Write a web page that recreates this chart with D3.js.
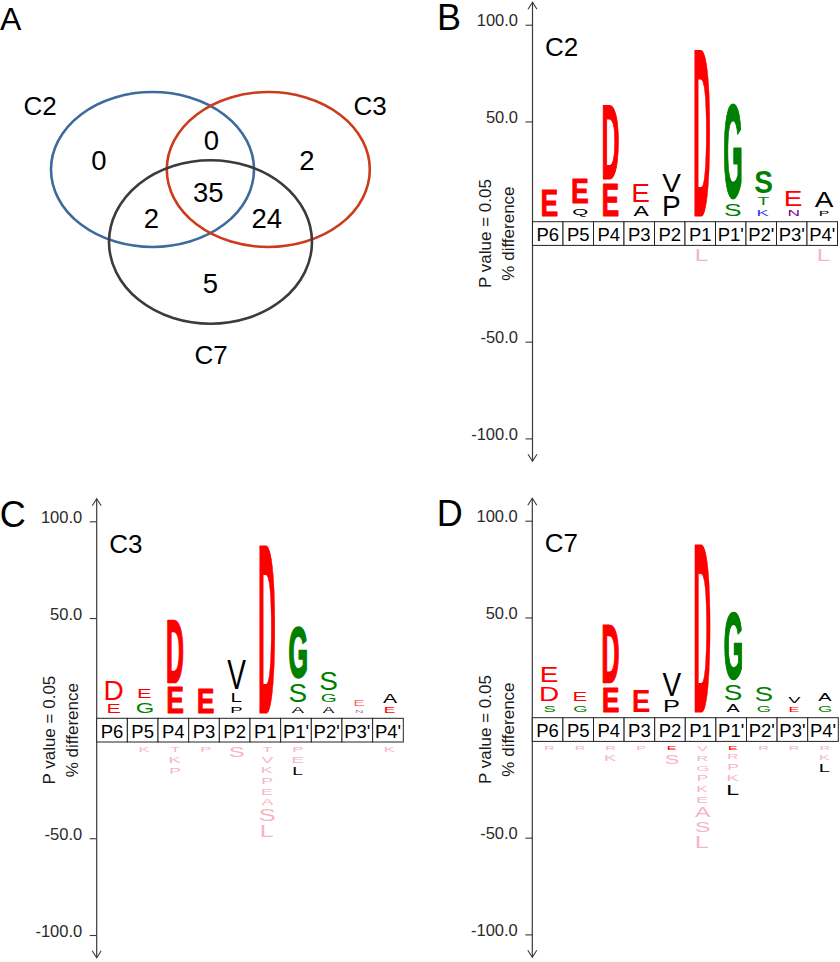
<!DOCTYPE html>
<html><head><meta charset="utf-8">
<script src="https://cdn.jsdelivr.net/npm/d3@7"></script>
<style>body{margin:0;background:#fff;} svg{display:block;}</style>
</head><body>
<svg id="fig" width="840" height="962"></svg>
<script>
// ================= DATA =================
const positions = ["P6","P5","P4","P3","P2","P1","P1'","P2'","P3'","P4'"];
const yTicks = [100, 50, -50, -100];
const yTitle = ["P value = 0.05", "% difference"];

// Venn (panel A)
const vennSets = ["C2", "C3", "C7"];
const vennRegions = ["C2", "C3", "C7", "C2&C3", "C2&C7", "C3&C7", "C2&C3&C7"];
const vennCounts = [0, 2, 5, 0, 2, 24, 35];

// Sequence logos: [residue, % difference, flag]; positive stacks listed bottom->top,
// negative stacks listed top->bottom. flag "f" = under-represented (pink), "h" = faint
const c2Up = [
  [["E",16.1]],
  [["Q",6.6],["E",15.2]],
  [["E",19.2],["D",40.1]],
  [["A",7.5],["E",11.8]],
  [["P",12.6],["V",11.6]],
  [["D",88.2]],
  [["S",8.7],["G",51.6]],
  [["K",5.8],["T",6.1],["S",14.0]],
  [["N",5.4],["E",10.1]],
  [["P",4.9],["A",10.4]]
];
const c2Down = [[],[],[],[],[],[["L",-8.0,"f"]],[],[],[],[["L",-8.0,"f"]]];

const c3Up = [
  [["E",6.9],["D",12.3]],
  [["G",7.8],["E",7.1]],
  [["E",15.7],["D",34.9]],
  [["E",15.4]],
  [["P",5.8],["L",6.6],["V",17.3]],
  [["D",88.8]],
  [["A",5.8],["S",11.8],["G",29.0]],
  [["A",5.4],["G",6.6],["S",11.6]],
  [["N",3.4,"h"],["E",5.4,"h"]],
  [["E",5.4],["A",6.8]]
];
const c3Down = [
  [],
  [["K",-5.1,"f"]],
  [["T",-5.1,"f"],["K",-5.8,"f"],["P",-5.4,"f"]],
  [["P",-5.1,"f"]],
  [["S",-7.8,"f"]],
  [["T",-5.1,"f"],["V",-5.5,"f"],["K",-5.5,"f"],["P",-5.5,"f"],["E",-5.5,"f"],["A",-5.5,"f"],["S",-8.4,"f"],["L",-8.2,"f"]],
  [["P",-5.1,"f"],["E",-5.8,"f"],["L",-6.1]],
  [],
  [],
  [["K",-5.1,"f"]]
];

const c7Up = [
  [["S",5.8],["D",9.7],["E",10.1]],
  [["G",5.8],["E",7.1]],
  [["E",15.4],["D",32.7]],
  [["E",13.7]],
  [["P",8.4],["V",14.3]],
  [["D",88.8]],
  [["A",6.3],["S",10.4],["G",37.5]],
  [["G",5.8],["S",9.9]],
  [["E",5.1],["V",5.8]],
  [["G",5.8],["A",6.4]]
];
const c7Down = [
  [["R",-4.4,"f"]],
  [["R",-4.4,"f"]],
  [["R",-4.4,"f"],["K",-5.8,"f"]],
  [["P",-4.4,"f"]],
  [["E",-4.4],["S",-7.0,"f"]],
  [["V",-4.9,"f"],["R",-4.9,"f"],["G",-5.3,"f"],["P",-5.3,"f"],["K",-5.4,"f"],["E",-5.8,"f"],["A",-7.5,"f"],["S",-7.5,"f"],["L",-8.4,"f"]],
  [["E",-4.4],["R",-4.7,"f"],["P",-5.4,"f"],["K",-5.8,"f"],["L",-7.5]],
  [["R",-4.4,"f"]],
  [["R",-4.4,"f"]],
  [["R",-4.4,"f"],["K",-5.0,"f"],["L",-6.5]]
];

// ================= STYLE / LAYOUT =================
const FONT = '"Liberation Sans", Arial, Helvetica, sans-serif';
const residueColor = {E:"#ff0000", D:"#ff0000", G:"#008000", S:"#008000", T:"#008000",
                      K:"#3535ff", R:"#3535ff", N:"#800080"};
const fadedColor = "#f5b5c5";
const svg = d3.select("#fig");
const fmtTick = v => d3.format(".1f")(v).replace("\u2212", "-");

const canvas = document.createElement("canvas");
const ctx = canvas.getContext("2d");
const metricCache = {};
function glyphMetrics(ch, bold) {
  const key = ch + (bold ? "b" : "r");
  if (!metricCache[key]) {
    ctx.font = (bold ? "bold " : "") + '100px "Liberation Sans"';
    const m = ctx.measureText(ch);
    metricCache[key] = {
      left: m.actualBoundingBoxLeft, right: m.actualBoundingBoxRight,
      asc: m.actualBoundingBoxAscent, desc: m.actualBoundingBoxDescent
    };
  }
  return metricCache[key];
}

// draw a glyph stretched so that its ink fills height h, centered at cx, top at y
function drawGlyph(g, ch, cx, yTop, h, color, opacity) {
  if (h < 1.5) h = 1.5;
  const isBlack = color === "#000000";
  const bold = h >= 22 && !isBlack;
  const sw = isBlack ? 0 : (h >= 45 ? 2 : (h >= 24 ? 0.8 : 0));
  const m = glyphMetrics(ch, bold);
  const inkW = m.left + m.right, inkH = m.asc + m.desc;
  const F = Math.min(28, 9 + 1.4 * h);
  const w = inkW / 100 * F - sw;
  const hh = h - sw;
  const sx = w / inkW, sy = hh / inkH;
  g.append("text")
    .attr("transform", `translate(${cx - w / 2},${yTop + sw / 2}) scale(${sx},${sy})`)
    .attr("x", m.left).attr("y", m.asc)
    .attr("font-family", '"Liberation Sans"')
    .attr("font-weight", bold ? "bold" : "normal")
    .attr("font-size", 100)
    .attr("fill", color)
    .attr("fill-opacity", opacity)
    .attr("stroke", sw ? color : "none")
    .attr("stroke-width", sw)
    .attr("vector-effect", "non-scaling-stroke")
    .attr("stroke-linejoin", "round")
    .text(ch);
}

function letterColor(res, flag) {
  if (flag === "f") return fadedColor;
  return residueColor[res] || "#000000";
}

// ================= PANEL A: VENN =================
(function () {
  const g = svg.append("g");
  const ellipses = [
    {cx: 152.5, cy: 169.5, rx: 101.5, ry: 77.5, color: "#3f6a9c"},
    {cx: 268.3, cy: 169.5, rx: 101.5, ry: 77.5, color: "#cc3b1b"},
    {cx: 210.5, cy: 242.0, rx: 101.5, ry: 81.8, color: "#3b3b3b"}
  ];
  const setLabelPos = [[40, 115], [370, 115], [211, 364]];
  const regionPos = [[99, 170], [307, 169.5], [210.5, 293], [211.3, 150], [151.3, 228], [266.7, 228.3], [208.3, 201.7]];

  g.selectAll("ellipse").data(ellipses).join("ellipse")
    .attr("cx", d => d.cx).attr("cy", d => d.cy)
    .attr("rx", d => d.rx).attr("ry", d => d.ry)
    .attr("fill", "none").attr("stroke", d => d.color).attr("stroke-width", 2.6);

  g.selectAll("text.set").data(vennSets).join("text").attr("class", "set")
    .attr("x", (d, i) => setLabelPos[i][0]).attr("y", (d, i) => setLabelPos[i][1])
    .attr("text-anchor", "middle").attr("font-family", FONT).attr("font-size", 26)
    .attr("fill", "#000").text(d => d);

  g.selectAll("text.cnt").data(vennCounts).join("text").attr("class", "cnt")
    .attr("x", (d, i) => regionPos[i][0]).attr("y", (d, i) => regionPos[i][1])
    .attr("text-anchor", "middle").attr("font-family", FONT).attr("font-size", 27.5)
    .attr("fill", "#000").text(d => d);

  g.append("text").attr("x", 0).attr("y", 30).attr("font-family", FONT)
    .attr("font-size", 32).attr("fill", "#000").text("A");
})();

// ================= LOGO PANELS =================
function drawLogo(cfg, up, down) {
  const g = svg.append("g");
  const k = 1.935, boxH = 23.7, pad = 4.5;
  const boxTop = cfg.boxTop, boxBot = boxTop + boxH;
  const ax = cfg.axisX;

  const yPos = d3.scaleLinear().domain([0, 100]).range([boxTop - 3, boxTop - 3 - 100 * k]);
  const yNeg = d3.scaleLinear().domain([0, -100]).range([boxBot, boxBot + 100 * k]);
  const yNegL = d3.scaleLinear().domain([0, -100]).range([boxBot + 2.5, boxBot + 2.5 + 100 * k]);
  const x = d3.scaleBand().domain(positions).range([ax, ax + 10 * cfg.colW]).paddingInner(0).paddingOuter(0);
  const tickY = v => v >= 0 ? yPos(v) : yNeg(v);

  // axis line + arrows
  const yTopA = boxTop - 219.5, yBotA = boxTop + 239.5;
  g.append("line").attr("x1", ax).attr("x2", ax).attr("y1", yTopA).attr("y2", yBotA)
    .attr("stroke", "#3a3a3a").attr("stroke-width", 1.2);
  g.append("path").attr("d", `M${ax - 4.5},${yTopA + 7}L${ax},${yTopA}L${ax + 4.5},${yTopA + 7}`)
    .attr("fill", "none").attr("stroke", "#3a3a3a").attr("stroke-width", 1.1);
  g.append("path").attr("d", `M${ax - 4.5},${yBotA - 7}L${ax},${yBotA}L${ax + 4.5},${yBotA - 7}`)
    .attr("fill", "none").attr("stroke", "#3a3a3a").attr("stroke-width", 1.1);

  // ticks
  g.selectAll("line.tick").data(yTicks).join("line").attr("class", "tick")
    .attr("x1", ax - 7).attr("x2", ax).attr("y1", tickY).attr("y2", tickY)
    .attr("stroke", "#3a3a3a").attr("stroke-width", 1.1);
  g.selectAll("text.tick").data(yTicks).join("text").attr("class", "tick")
    .attr("x", ax - 14.5).attr("y", d => tickY(d) + 1)
    .attr("text-anchor", "end").attr("font-family", FONT).attr("font-size", 16.5)
    .attr("fill", "#2a2a2a").text(fmtTick);

  // axis title
  const midY = boxTop + boxH / 2;
  yTitle.forEach((t, i) => {
    const tx = ax - (i === 0 ? 47 : 24);
    g.append("text").attr("transform", `translate(${tx},${midY}) rotate(-90)`)
      .attr("text-anchor", "middle").attr("dominant-baseline", "central")
      .attr("font-family", FONT).attr("font-size", 17).attr("fill", "#1a1a1a").text(t);
  });

  // position boxes
  g.selectAll("rect.pos").data(positions).join("rect").attr("class", "pos")
    .attr("x", d => x(d)).attr("y", boxTop).attr("width", x.bandwidth()).attr("height", boxH)
    .attr("fill", "#fff").attr("stroke", "#222").attr("stroke-width", 1);
  g.selectAll("text.pos").data(positions).join("text").attr("class", "pos")
    .attr("x", d => x(d) + x.bandwidth() / 2).attr("y", boxTop + 19.3)
    .attr("text-anchor", "middle").attr("font-family", FONT).attr("font-size", 18.5)
    .attr("fill", "#000").text(d => d);

  // letters
  positions.forEach((p, i) => {
    const cx = x(p) + x.bandwidth() / 2 + 2;
    let s = 0;
    up[i].forEach(([res, v, flag]) => {
      const yb = yPos(s), yt = yPos(s + v);
      s += v;
      drawGlyph(g, res, cx, yt + pad / 2, (yb - yt) - pad, letterColor(res, flag), flag === "h" ? 0.6 : 1);
    });
    let n = 0;
    down[i].forEach(([res, v, flag]) => {
      const yt = yNegL(n), yb = yNegL(n + v);
      n += v;
      drawGlyph(g, res, cx, yt + pad / 2, (yb - yt) - pad, letterColor(res, flag), 1);
    });
  });

  // series name & panel letter
  g.append("text").attr("x", ax + 12.5).attr("y", boxTop - 165.5)
    .attr("font-family", FONT).attr("font-size", 26).attr("fill", "#000").text(cfg.name);
  g.append("text").attr("x", ax + cfg.letterDx).attr("y", boxTop - 191.5)
    .attr("font-family", FONT).attr("font-size", 36).attr("fill", "#000").text(cfg.panel);
}

drawLogo({panel: "B", name: "C2", axisX: 532.5, boxTop: 221.7, colW: 30.5, letterDx: -95.5}, c2Up, c2Down);
drawLogo({panel: "C", name: "C3", axisX: 96.7, boxTop: 718.3, colW: 30.66, letterDx: -97}, c3Up, c3Down);
drawLogo({panel: "D", name: "C7", axisX: 532.3, boxTop: 717.7, colW: 30.6, letterDx: -95.5}, c7Up, c7Down);
</script>
</body></html>
